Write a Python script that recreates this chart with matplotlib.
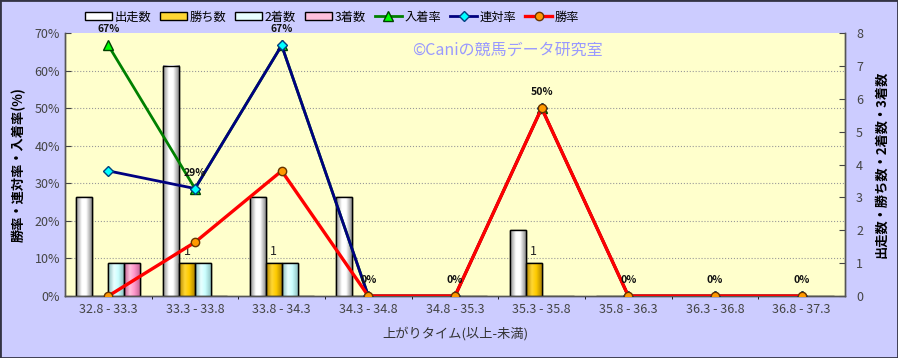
import numpy as np
import matplotlib
matplotlib.use("Agg")
import matplotlib.pyplot as plt
from matplotlib.colors import LinearSegmentedColormap
from matplotlib.patches import Rectangle

plt.rcParams['font.family'] = ['Noto Sans CJK JP', 'DejaVu Sans']

categories = ["32.8 - 33.3", "33.3 - 33.8", "33.8 - 34.3", "34.3 - 34.8", "34.8 - 35.3",
              "35.3 - 35.8", "35.8 - 36.3", "36.3 - 36.8", "36.8 - 37.3"]
runs = [3, 7, 3, 3, 0, 2, 0, 0, 0]
wins = [0, 1, 1, 0, 0, 1, 0, 0, 0]
seconds = [1, 1, 1, 0, 0, 0, 0, 0, 0]
thirds = [1, 0, 0, 0, 0, 0, 0, 0, 0]
win_rate = [0, 14.3, 33.3, 0, 0, 50.0, 0, 0, 0]
rentai_rate = [33.3, 28.6, 66.7, 0, 0, 50.0, 0, 0, 0]
place_rate = [66.7, 28.6, 66.7, 0, 0, 50.0, 0, 0, 0]

BG = "#CCCCFF"
PLOT_BG = "#FFFFCC"

fig = plt.figure(figsize=(8.98, 3.58), dpi=100, facecolor=BG)
ax = fig.add_axes([65 / 898, 62 / 358, 780 / 898, 263 / 358])
axb = ax.twinx()
ax.set_zorder(axb.get_zorder() + 1)
ax.patch.set_visible(False)
axb.patch.set_visible(True)
axb.set_facecolor(PLOT_BG)

x = np.arange(len(categories))
n = len(categories)

# bars (right axis)
bw = 0.185
bar_specs = [
    (runs, ["#8C8C8C", "#FFFFFF", "#FFFFFF", "#7A7A7A"], "出走数"),
    (wins, ["#B38600", "#FFD633", "#FFCC00", "#A67C00"], "勝ち数"),
    (seconds, ["#88BBBB", "#E8FFFF", "#CCFFFF", "#88BBBB"], "2着数"),
    (thirds, ["#C06090", "#FFC0DD", "#FF99CC", "#C06090"], "3着数"),
]
legend_handles = []
for i, (vals, cols, name) in enumerate(bar_specs):
    offs = (i - 1.5) * bw
    bars = axb.bar(x + offs, vals, width=bw, facecolor=cols[2], edgecolor="black",
                   linewidth=1.0, zorder=3)
    cmap = LinearSegmentedColormap.from_list(name, [(0, cols[0]), (0.35, cols[1]), (0.6, cols[2]), (1, cols[3])])
    grad = np.linspace(0, 1, 64).reshape(1, -1)
    for b in bars:
        h = b.get_height()
        if h <= 0:
            continue
        axb.imshow(grad, cmap=cmap, aspect="auto", zorder=3.5,
                   extent=(b.get_x(), b.get_x() + b.get_width(), 0, h))
        axb.add_patch(Rectangle((b.get_x(), 0), b.get_width(), h, fill=False,
                                edgecolor="black", linewidth=1.0, zorder=4))
    legend_handles.append(Rectangle((0, 0), 1, 1, facecolor=cols[1], edgecolor="black",
                                    linewidth=1.0, label=name))

for xi, v in zip(x, wins):
    if v > 0:
        axb.text(xi - 0.5 * bw, v + 0.15, str(v), ha="center", va="bottom", fontsize=9,
                 color="#222222", zorder=6)

axb.set_xlim(-0.5, n - 0.5)
axb.set_ylim(0, 8)
axb.set_yticks(range(0, 9))
axb.tick_params(axis="y", direction="in", length=4, labelsize=9, labelcolor="#444444",
                colors="#444444", pad=8)
for lbl in axb.get_yticklabels():
    lbl.set_color("#444444")
axb.set_ylabel("出走数・勝ち数・2着数・3着数", fontsize=9.5, fontweight="bold", labelpad=8)

# lines (left axis)
lp, = ax.plot(x, place_rate, color="#008000", linewidth=2, marker="^", markersize=7,
              markerfacecolor="#00FF00", markeredgecolor="#004000", zorder=5, label="入着率")
lr, = ax.plot(x, rentai_rate, color="#000080", linewidth=2, marker="D", markersize=5,
              markerfacecolor="#00FFFF", markeredgecolor="#004080", zorder=6, label="連対率")
lw, = ax.plot(x, win_rate, color="#FF0000", linewidth=2.4, marker="o", markersize=6,
              markerfacecolor="#FF9900", markeredgecolor="#663300", zorder=7, label="勝率")
for xi, v in zip(x, place_rate):
    ax.annotate(f"{v:.0f}%", (xi, v), xytext=(0, 11.5), textcoords="offset points",
                ha="center", va="center", fontsize=7.5, fontweight="bold",
                color="#111111", zorder=8, annotation_clip=False)

ax.set_xlim(-0.5, n - 0.5)
ax.set_ylim(0, 70)
ax.set_yticks(range(0, 71, 10))
ax.set_yticklabels([f"{v}%" for v in range(0, 71, 10)])
ax.tick_params(axis="y", direction="in", length=4, labelsize=9, labelcolor="#444444",
               colors="#444444")
ax.set_xticks(x)
ax.set_xticklabels(categories)
ax.tick_params(axis="x", length=0, labelsize=9, labelcolor="#444444", pad=5)
ax.set_ylabel("勝率・連対率・入着率(%)", fontsize=9.5, fontweight="bold", labelpad=6)
ax.set_xlabel("上がりタイム(以上-未満)", fontsize=9.5, color="#333333", labelpad=8)

axb.set_xticks(np.arange(0.5, n - 0.5, 1), minor=True)
axb.tick_params(axis="x", which="minor", length=0)
axb.grid(True, which="minor", axis="x", color="#999999", linestyle=":", linewidth=0.8)
for yv in range(10, 70, 10):
    axb.axhline(yv * 8 / 70, color="#999999", linestyle=":", linewidth=0.8, zorder=1)

for a in (ax, axb):
    for s in ("left", "right", "bottom"):
        a.spines[s].set_color("#555555")
        a.spines[s].set_linewidth(1.0)
    a.spines["top"].set_visible(False)

ax.text(0.445, 0.935, "©Caniの競馬データ研究室", transform=ax.transAxes, fontsize=11.5,
        color="#9999FF", ha="left", va="center", zorder=2)

handles = legend_handles + [lp, lr, lw]
fig.legend(handles=handles, loc="center left", bbox_to_anchor=(80 / 898, 1 - 17 / 358),
           ncol=7, frameon=False, fontsize=8.8, handlelength=2.2, handleheight=0.55,
           handletextpad=0.2, columnspacing=0.75, borderaxespad=0)

fig.add_artist(Rectangle((0, 0), 1, 1, transform=fig.transFigure, fill=False,
                         edgecolor="#333344", linewidth=2))

fig.savefig("out.png", dpi=100, facecolor=BG)
